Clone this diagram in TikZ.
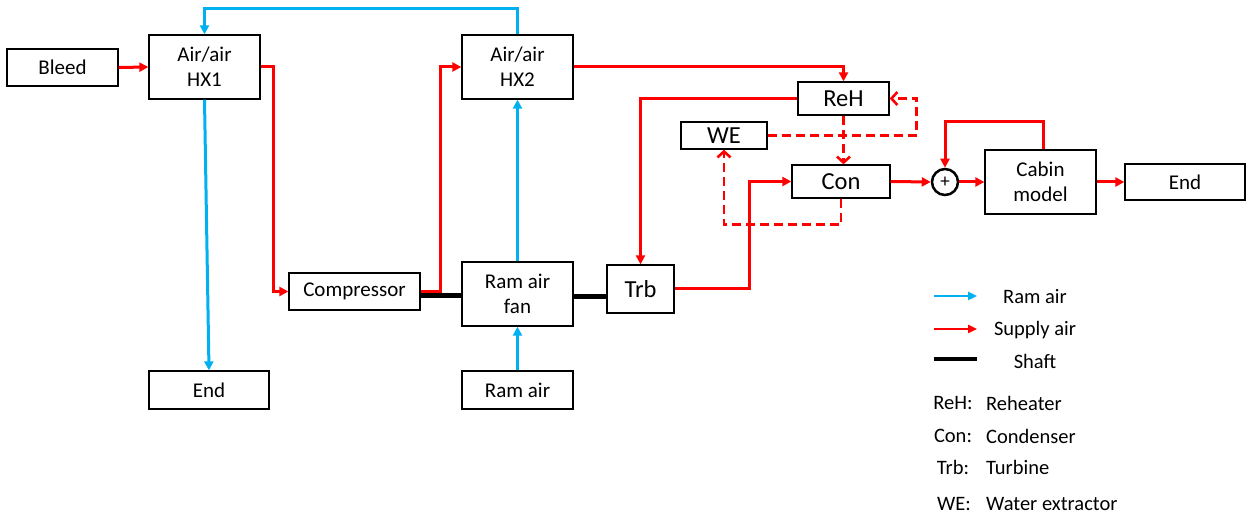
\documentclass[tikz,border=0pt]{standalone}
\usepackage{fontspec}
\setmainfont{Carlito}
\usetikzlibrary{arrows.meta}
\definecolor{supc}{HTML}{FF0000}
\definecolor{ramc}{HTML}{00B0F0}
\tikzset{
  blk/.style={draw=black, line width=1.3pt, fill=white, inner sep=0pt, align=center,
    font=\fontsize{21}{25}\selectfont},
  big/.style={font=\fontsize{24.5}{28}\selectfont},
  sup/.style={draw=supc, line width=3pt, -{Triangle[length=9pt,width=9pt]}},
  supd/.style={draw=supc, line width=2.6pt, dash pattern=on 9pt off 5pt,
    -{Straight Barb[length=6pt,width=13pt,line width=2.6pt]}},
  ram/.style={draw=ramc, line width=3pt, -{Triangle[length=9pt,width=9pt]}},
  shaft/.style={draw=black, line width=5pt},
  lgd/.style={font=\fontsize{20.5}{24}\selectfont, inner sep=0pt},
}
\begin{document}
\begin{tikzpicture}[x=1pt,y=-1pt]
\useasboundingbox (0,0) rectangle (1247,518);
% boxes
\node[blk, minimum width=111pt, minimum height=37pt] (bleed) at (62.5,67.5) {Bleed};
\node[blk, minimum width=111pt, minimum height=64pt] (hx1) at (204.5,67) {Air/air\\HX1};
\node[blk, minimum width=111pt, minimum height=64pt] (hx2) at (517.5,67) {Air/air\\HX2};
\node[blk, minimum width=131pt, minimum height=37pt] (comp) at (354.5,291.5) {Compressor};
\node[blk, minimum width=111pt, minimum height=64pt] (fan) at (517.5,294) {Ram air\\fan};
\node[blk, big, minimum width=67pt, minimum height=48pt] (trb) at (640.5,289) {Trb};
\node[blk, minimum width=120pt, minimum height=38pt] (end1) at (209,390) {End};
\node[blk, minimum width=111pt, minimum height=38pt] (ramin) at (517.5,390) {Ram air};
\node[blk, big, minimum width=91pt, minimum height=33pt] (reh) at (843.5,98.5) {ReH};
\node[blk, big, minimum width=86pt, minimum height=27pt] (we) at (724,135.5) {WE};
\node[blk, big, minimum width=98pt, minimum height=33pt] (con) at (841,181.5) {Con};
\node[circle, draw=black, line width=2.5pt, minimum size=26pt, inner sep=0pt,
  font=\fontsize{19}{19}\selectfont] (plus) at (945,182) {+};
\node[blk, minimum width=111pt, minimum height=64pt] (cab) at (1040.5,182) {Cabin\\model};
\node[blk, minimum width=120pt, minimum height=36pt] (end2) at (1185,182) {End};

% supply air
\draw[sup] (bleed.east) -- (hx1.west);
\draw[sup] (hx1.east) -- ++(13,0) |- (comp.west);
\draw[sup] (comp.east) -- ++(20,0) |- (hx2.west);
\draw[sup] (hx2.east) -| (reh.north);
\draw[sup] (reh.west) -| (trb.north);
\draw[sup] (trb.east) -- ++(75,0) |- (con.west);
\draw[sup] (con.east) -- (plus.west);
\draw[sup] ([xshift=2.5pt]cab.north) -- ++(0,-28) -| (plus.north);
\draw[sup] (plus.east) -- (cab.west);
\draw[sup] (cab.east) -- (end2.west);
% dashed water loop
\draw[supd] (reh.south) -- (reh.south |- con.north);
\draw[supd] (we.east) -- ++(149,0) |- (reh.east);
\draw[supd] (con.south) -- ++(0,26) -| (we.south);
% ram air
\draw[ram] (hx2.north) -- ++(0,-26) -| (hx1.north);
\draw[ram] (hx1.south) -- (end1.north);
\draw[ram] (ramin.north) -- (fan.south);
\draw[ram] (fan.north) -- (hx2.south);
% shafts
\draw[shaft] ([yshift=-4.5pt]comp.east) -- ([yshift=-2pt]fan.west);
\draw[shaft] ([yshift=-3pt]fan.east) -- ([yshift=-8pt]trb.west);

% legend
\coordinate (l1a) at (934,296); \coordinate (l1b) at (977,296);
\coordinate (l2a) at (934,329); \coordinate (l2b) at (977,329);
\coordinate (l3a) at (934,359); \coordinate (l3b) at (977,359);
\draw[ramc, line width=2.5pt, -{Triangle[length=9pt,width=8pt]}] (l1a) -- (l1b);
\draw[supc, line width=2.5pt, -{Triangle[length=9pt,width=8pt]}] (l2a) -- (l2b);
\draw[black, line width=4.5pt] (l3a) -- (l3b);
\node[lgd] (t1) at (1035,297) {Ram air};
\node[lgd] (t2) at (1035,330) {Supply air};
\node[lgd] (t3) at (1035,361) {Shaft};
\node[lgd] (a1) at (953,403) {ReH:};
\node[lgd] (a2) at (953,436) {Con:};
\node[lgd] (a3) at (953,467) {Trb:};
\node[lgd] (a4) at (954,504) {WE:};
\node[lgd, anchor=west] (d1) at (986,403) {Reheater};
\node[lgd, anchor=west] (d2) at (986,436) {Condenser};
\node[lgd, anchor=west] (d3) at (986,467) {Turbine};
\node[lgd, anchor=west] (d4) at (986,504) {Water extractor};
\end{tikzpicture}
\end{document}
